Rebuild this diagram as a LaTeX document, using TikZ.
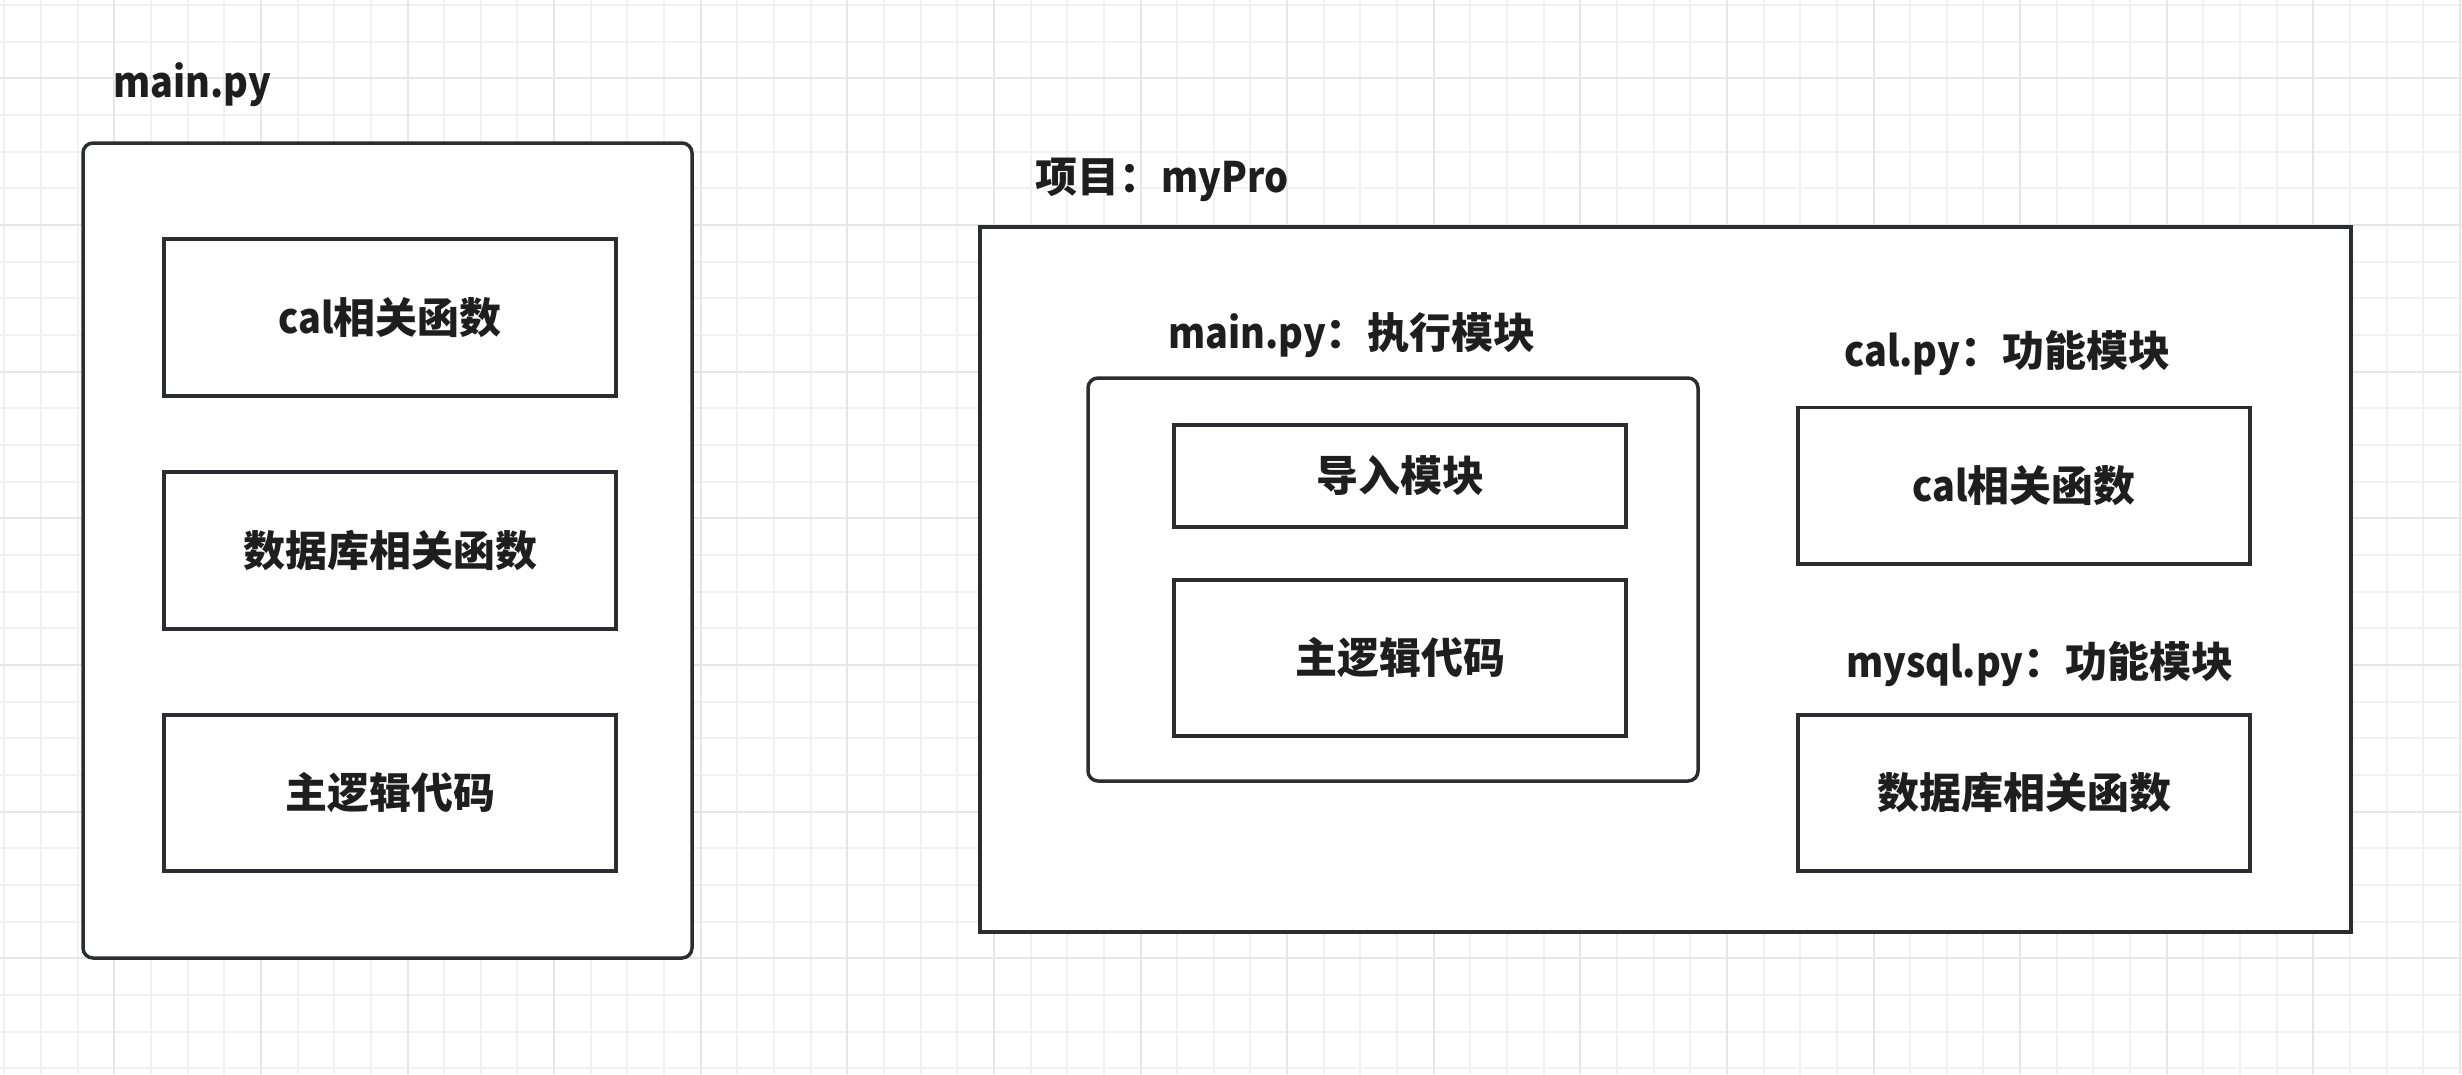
\documentclass[tikz,border=0pt]{standalone}
\usepackage{fontspec}
\setmainfont{Noto Sans CJK SC}
\newfontfamily\lat{Noto Sans CJK SC}[FakeStretch=0.9]
\newcommand\lblfont{\fontsize{42}{50}\selectfont\bfseries}
\newcommand\lt[1]{{\lat\bfseries #1}}
\definecolor{linec}{HTML}{2B2D31}
\definecolor{textc}{HTML}{1E1E1E}
\definecolor{gridminor}{HTML}{F1F1F1}
\definecolor{gridmajor}{HTML}{E6E6E6}
\begin{document}
\begin{tikzpicture}[x=1pt,y=-1pt,
  box/.style={draw=linec, line width=3.5pt, fill=white, inner sep=0pt, outer sep=0pt,
              text=textc, font=\lblfont},
  rbox/.style={box, rounded corners=10pt},
  lbl/.style={anchor=base west, inner sep=0pt, text=textc, font=\lblfont},
  gmin/.style={draw=gridminor, line width=2pt},
  gmaj/.style={draw=gridmajor, line width=2pt}]
\useasboundingbox (0,0) rectangle (2462,1074);
\fill[white] (0,0) rectangle (2462,1074);
% grid
\foreach \k in {0,...,67} {
  \pgfmathsetmacro\xx{4.35+36.65*\k}
  \draw[gmin] (\xx,0) -- (\xx,1074);
}
\foreach \k in {0,...,29} {
  \pgfmathsetmacro\yy{5+36.67*\k}
  \draw[gmin] (0,\yy) -- (2462,\yy);
}
\foreach \k in {3,7,...,67} {
  \pgfmathsetmacro\xx{4.35+36.65*\k}
  \draw[gmaj] (\xx,0) -- (\xx,1074);
}
\foreach \k in {2,6,...,26} {
  \pgfmathsetmacro\yy{5+36.67*\k}
  \draw[gmaj] (0,\yy) -- (2462,\yy);
}
% left: single file
\node[lbl] (ltitle) at (113,97) {\lt{main.py}};
\node[rbox, minimum width=609pt, minimum height=815pt] (L) at (387.5,550.5) {};
\node[box, minimum width=452pt, minimum height=157pt] (L1) at (390,317.5) {\lt{cal}相关函数};
\node[box, minimum width=452pt, minimum height=157pt] (L2) at (390,550.5) {数据库相关函数};
\node[box, minimum width=452pt, minimum height=156pt] (L3) at (390,793) {主逻辑代码};
% right: project
\node[lbl] (ptitle) at (1035,192) {项目：\lt{myPro}};
\node[box, minimum width=1371pt, minimum height=705pt] (P) at (1665.5,579.5) {};
\node[lbl] (mtitle) at (1168,348) {\lt{main.py}：执行模块};
\node[rbox, minimum width=610pt, minimum height=403pt] (M) at (1393,579.5) {};
\node[box, minimum width=452pt, minimum height=102pt] (M1) at (1400,476) {导入模块};
\node[box, minimum width=452pt, minimum height=156pt] (M2) at (1400,658) {主逻辑代码};
\node[lbl] (ctitle) at (1844,366) {\lt{cal.py}：功能模块};
\node[box, minimum width=452pt, minimum height=156.5pt] (C) at (2024,485.75) {\lt{cal}相关函数};
\node[lbl] (stitle) at (1846,677) {\lt{mysql.py}：功能模块};
\node[box, minimum width=452pt, minimum height=156pt] (S) at (2024,793) {数据库相关函数};
\end{tikzpicture}
\end{document}
